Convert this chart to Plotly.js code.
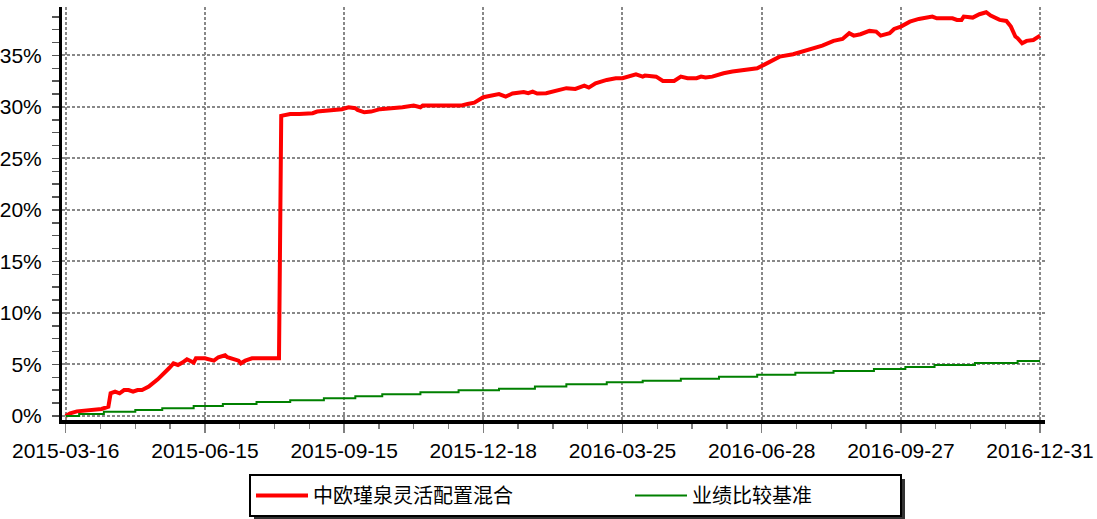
<!DOCTYPE html>
<html>
<head>
<meta charset="utf-8">
<script src="https://cdn.plot.ly/plotly-3.0.1.min.js"></script>
<style>
html,body{margin:0;padding:0;background:#fff;}
#chart{width:1097px;height:519px;}
</style>
</head>
<body>
<div id="chart"></div>
<script>
// trading-day index of each tick label
const tickIndex = [0, 62, 124, 186, 248, 310, 372, 434];
const tickLabels = ["2015-03-16", "2015-06-15", "2015-09-15", "2015-12-18", "2016-03-25", "2016-06-28", "2016-09-27", "2016-12-31"];
const yTickValues = [0, 5, 10, 15, 20, 25, 30, 35];
const yTickLabels = ["0%", "5%", "10%", "15%", "20%", "25%", "30%", "35%"];

// 中欧瑾泉灵活配置混合 cumulative return (%)
const fundDay = [0,2,5,10,16,19,20,22,24,26,28,30,32,34,36,37,41,44,46,48,50,52,54,57,58,62,66,68,71,72,75,77,78,80,83,89,95,
  96,100,104,110,112,121,123,126,129,130,133,136,140,150,155,158,159,165,176,179,182,186,189,193,196,199,204,206,208,210,214,219,223,227,231,233,236,241,245,248,254,257,258,263,266,271,274,277,281,283,285,288,293,297,303,308,311,314,315,318,324,329,333,337,342,346,349,351,354,358,361,363,367,369,372,376,380,386,388,395,397,399,400,404,407,410,412,416,419,421,423,424,426,428,431,434];
const fundReturn = [0,0.26,0.45,0.58,0.68,0.9,2.2,2.36,2.2,2.52,2.52,2.36,2.52,2.52,2.69,2.85,3.56,4.14,4.63,5.11,4.95,5.18,5.5,5.18,5.6,5.6,5.37,5.7,5.89,5.7,5.5,5.37,5.11,5.37,5.6,5.6,5.6,
  29.13,29.32,29.32,29.39,29.55,29.7,29.78,29.97,29.87,29.7,29.48,29.55,29.78,29.97,30.13,29.97,30.13,30.13,30.13,30.29,30.42,30.94,31.07,31.25,31.0,31.3,31.45,31.33,31.49,31.3,31.33,31.56,31.82,31.75,32.07,31.88,32.3,32.62,32.79,32.79,33.17,32.94,33.04,32.94,32.52,32.52,32.94,32.79,32.79,32.94,32.85,32.94,33.27,33.43,33.6,33.75,34.08,34.4,34.56,34.88,35.12,35.44,35.7,35.95,36.41,36.6,37.15,36.92,37.06,37.38,37.31,36.92,37.15,37.57,37.8,38.28,38.54,38.77,38.6,38.6,38.45,38.45,38.77,38.67,39.0,39.19,38.86,38.45,38.35,37.8,36.83,36.67,36.18,36.41,36.5,36.92];

// 业绩比较基准 cumulative return (%), step changes
const benchDay = [0,6,17,31,43,57,70,85,100,115,129,141,158,175,193,209,223,241,257,274,291,308,325,342,360,374,387,405,424,434];
const benchReturn = [0,0.19,0.42,0.58,0.74,0.97,1.17,1.36,1.52,1.71,1.91,2.1,2.3,2.49,2.65,2.85,3.08,3.27,3.43,3.62,3.82,4.01,4.2,4.37,4.56,4.76,4.95,5.15,5.34,5.34];

const seriesNames = ["中欧瑾泉灵活配置混合", "业绩比较基准"];

const traces = [
  {x: fundDay, y: fundReturn, name: seriesNames[0], type: "scatter", mode: "lines",
   line: {color: "#FF0000", width: 4}, legendwidth: 312},
  {x: benchDay, y: benchReturn, name: seriesNames[1], type: "scatter", mode: "lines",
   line: {color: "#008000", width: 2, shape: "hv"}, legendwidth: 203}
];

const L = 62, R = 52, T = 7, B = 99;
const W = 1097, H = 519;
const pw = W - L - R, ph = H - T - B;
function px2x(p){ return (p - L) / pw; }
function py2y(p){ return (H - B - p) / ph; }

const gridStyle = {showgrid: true, gridcolor: "#888888", gridwidth: 2, griddash: "3px,2px"};

const layout = {
  width: W, height: H,
  margin: {l: L, r: R, t: T, b: B, pad: 0, autoexpand: false},
  paper_bgcolor: "#ffffff", plot_bgcolor: "#ffffff",
  font: {family: "Arial, 'Liberation Sans', sans-serif", size: 21, color: "#000"},
  showlegend: true,
  xaxis: Object.assign({
    range: [-1.65, 436.2],
    tickmode: "array", tickvals: tickIndex, ticktext: tickLabels,
    zeroline: false,
    showline: true, linecolor: "#000", linewidth: 4,
    ticks: "outside", ticklen: 9, tickwidth: 1.5, tickcolor: "#808080",
    minor: {dtick: 15.5, tick0: 0, ticks: "outside", ticklen: 5, tickwidth: 1.5, tickcolor: "#808080", showgrid: false},
    tickfont: {size: 21, family: "Arial, 'Liberation Sans', sans-serif"},
    automargin: false,
    fixedrange: true
  }, gridStyle),
  yaxis: Object.assign({
    range: [-0.39, 39.7],
    tickmode: "array", tickvals: yTickValues, ticktext: yTickLabels,
    zeroline: false,
    showline: true, linecolor: "#000", linewidth: 3,
    ticks: "outside", ticklen: 7, tickwidth: 1.5, tickcolor: "#555",
    minor: {dtick: 1.25, tick0: 0, ticks: "outside", ticklen: 7, tickwidth: 1.5, tickcolor: "#555", showgrid: false},
    tickfont: {size: 21, family: "Arial, 'Liberation Sans', sans-serif"},
    ticklabelstandoff: 6,
    automargin: false,
    fixedrange: true
  }, gridStyle),
  legend: {
    orientation: "h",
    x: px2x(249), xanchor: "left",
    y: py2y(474), yanchor: "top",
    bgcolor: "#ffffff", bordercolor: "#000", borderwidth: 2,
    font: {family: "'Noto Sans CJK SC', sans-serif", size: 20, color: "#000"},
    itemwidth: 52,
    tracegroupgap: 0
  },
  shapes: [
    {type: "rect", xref: "paper", yref: "paper",
     x0: px2x(254), x1: px2x(905), y0: py2y(520), y1: py2y(479),
     fillcolor: "#333333", line: {width: 0}, layer: "below"}
  ]
};

Plotly.newPlot("chart", traces, layout, {staticPlot: true, displayModeBar: false});
</script>
</body>
</html>
